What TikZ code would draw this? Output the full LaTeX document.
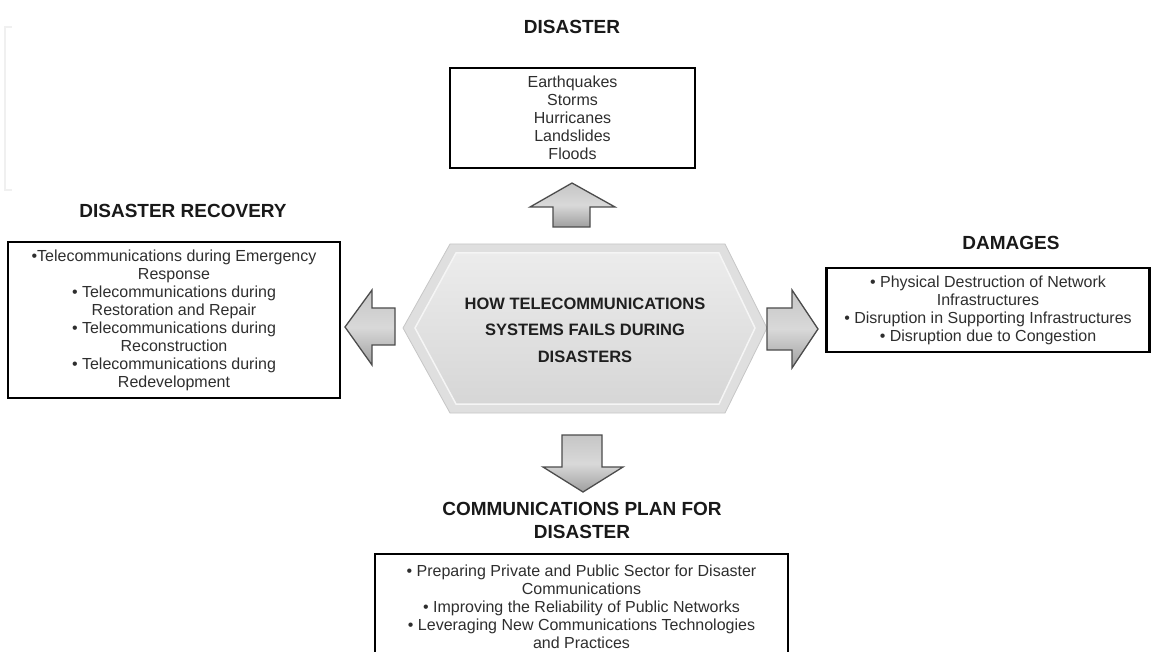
\documentclass[tikz,border=0pt]{standalone}
\usepackage{fontspec}
\setmainfont{Liberation Sans}
\usetikzlibrary{positioning}

\begin{document}
\begin{tikzpicture}[x=1pt,y=1pt,line join=miter,
  box/.style={draw=black,line width=2.5pt,align=center,inner sep=0pt,
    font=\fontsize{16}{18}\selectfont,text=black!82},
  title/.style={font=\bfseries\fontsize{19}{23}\selectfont,text=black!90,align=center},
  barrow/.style={draw=black!70,line width=1.3pt,top color=gray!45,bottom color=gray!75,middle color=gray!30}]

% Page size (pixels of the reference, y going down as negative)
\useasboundingbox (0,0) rectangle (1154,-652);

% Faint bracket top left
\draw[gray!12,line width=1.5pt] (12,-27) -- (5,-27) -- (5,-190) -- (12,-190);

% Central hexagon
\def\hexL{403}   % left tip
\def\hexR{767}   % right tip
\def\hexM{-328}  % middle height
\def\hexT{-244}  % top edge
\def\hexB{-413}  % bottom edge
\fill[gray!25] (\hexL,\hexM) -- (450,\hexT) -- (725,\hexT) -- (\hexR,\hexM) -- (725,\hexB) -- (450,\hexB) -- cycle;
\draw[gray!45,line width=0.8pt] (\hexL,\hexM) -- (450,\hexT) -- (725,\hexT) -- (\hexR,\hexM) -- (725,\hexB) -- (450,\hexB) -- cycle;
\shade[top color=gray!15,bottom color=gray!32,draw=white!92!gray,line width=1.5pt]
  (\hexL+12,\hexM) -- (456,\hexT-9) -- (719,\hexT-9) -- (\hexR-12,\hexM) -- (719,\hexB+9) -- (456,\hexB+9) -- cycle;
\node[font=\bfseries\fontsize{16.5}{26.5}\selectfont,text=black!88,align=center]
  (hub) at (585,-330) {HOW TELECOMMUNICATIONS\\SYSTEMS FAILS DURING\\DISASTERS};

% Disaster (top)
\node[title] (disT) at (572,-27) {DISASTER};
\node[box,minimum width=245pt,minimum height=100pt] (dis) at (572.5,-118)
  {Earthquakes\\Storms\\Hurricanes\\Landslides\\Floods};

% Disaster recovery (left)
\node[title] (recT) at (183,-211) {DISASTER RECOVERY};
\node[box,minimum width=332pt,minimum height=156pt] (rec) at (174,-320)
  {•Telecommunications during Emergency\\Response\\• Telecommunications during\\Restoration and Repair\\
   • Telecommunications during\\Reconstruction\\• Telecommunications during\\Redevelopment};

% Damages (right)
\node[title] (damT) at (1011,-243) {DAMAGES};
\node[box,minimum width=323pt,minimum height=84pt] (dam) at (988,-310)
  {• Physical Destruction of Network\\Infrastructures\\• Disruption in Supporting Infrastructures\\
   • Disruption due to Congestion};

% Communications plan (bottom)
\node[title] (plaT) at (582,-520) {COMMUNICATIONS PLAN FOR\\DISASTER};
\node[box,minimum width=413pt,minimum height=106pt] (pla) at (581.5,-607)
  {• Preparing Private and Public Sector for Disaster\\Communications\\
   • Improving the Reliability of Public Networks\\
   • Leveraging New Communications Technologies\\and Practices};

% Block arrows
\draw[barrow] (572,-183) -- (615,-207) -- (590,-207) -- (590,-227) -- (553,-227) -- (553,-207) -- (530,-207) -- cycle;
\draw[barrow] (583,-492) -- (623,-467) -- (602,-467) -- (602,-435) -- (562,-435) -- (562,-467) -- (543,-467) -- cycle;
\draw[barrow] (345,-327) -- (372,-290) -- (372,-308) -- (395,-308) -- (395,-345) -- (372,-345) -- (372,-365) -- cycle;
\draw[barrow] (818,-329) -- (792,-290) -- (792,-308) -- (767,-308) -- (767,-350) -- (792,-350) -- (792,-368) -- cycle;

\end{tikzpicture}
\end{document}
